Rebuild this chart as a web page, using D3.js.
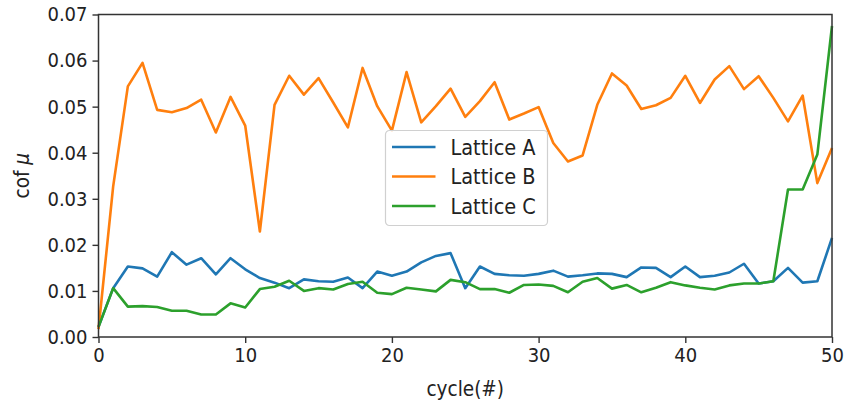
<!DOCTYPE html>
<html>
<head>
<meta charset="utf-8">
<script src="https://cdn.jsdelivr.net/npm/d3@7"></script>
<style>
    body { margin: 0; background: #fff; }
    text { font-family: "DejaVu Sans Condensed", "DejaVu Sans", sans-serif; fill: #222; }
</style>
</head>
<body>
<div id="chart-area"></div>
<script>

var cycles = [0, 1, 2, 3, 4, 5, 6, 7, 8, 9, 10, 11, 12, 13, 14, 15, 16, 17, 18, 19, 20,
    21, 22, 23, 24, 25, 26, 27, 28, 29, 30, 31, 32, 33, 34, 35, 36, 37, 38, 39, 40,
    41, 42, 43, 44, 45, 46, 47, 48, 49, 50];

var latticeA = [0.0022, 0.0106, 0.0153, 0.0149, 0.0131, 0.0184, 0.0157, 0.0171, 0.0136, 0.0171,
    0.0147, 0.0128, 0.0118, 0.0106, 0.0125, 0.0121, 0.0120, 0.0129, 0.0106, 0.0142,
    0.0133, 0.0142, 0.0162, 0.0176, 0.0182, 0.0106, 0.0153, 0.0137, 0.0134, 0.0133,
    0.0137, 0.0144, 0.0131, 0.0134, 0.0138, 0.0137, 0.0130, 0.0151, 0.0150, 0.0130,
    0.0153, 0.0130, 0.0133, 0.0140, 0.0159, 0.0116, 0.0121, 0.0150, 0.0118, 0.0121,
    0.0215];

var latticeB = [0.0017, 0.0327, 0.0544, 0.0595, 0.0493, 0.0488, 0.0497, 0.0515, 0.0444, 0.0521,
    0.0459, 0.0229, 0.0504, 0.0567, 0.0526, 0.0562, 0.0509, 0.0455, 0.0584, 0.0501,
    0.0448, 0.0575, 0.0466, 0.0501, 0.0539, 0.0478, 0.0512, 0.0553, 0.0472, 0.0485,
    0.0499, 0.0421, 0.0381, 0.0394, 0.0504, 0.0572, 0.0546, 0.0495, 0.0503, 0.0519,
    0.0567, 0.0508, 0.0559, 0.0588, 0.0538, 0.0566, 0.0519, 0.0468, 0.0524, 0.0334,
    0.0410];

var latticeC = [0.0022, 0.0106, 0.0066, 0.0067, 0.0065, 0.0057, 0.0057, 0.0049, 0.0049, 0.0073,
    0.0064, 0.0104, 0.0109, 0.0122, 0.0100, 0.0106, 0.0103, 0.0115, 0.0120, 0.0096,
    0.0093, 0.0107, 0.0103, 0.0099, 0.0124, 0.0119, 0.0104, 0.0104, 0.0096, 0.0113,
    0.0114, 0.0111, 0.0097, 0.0120, 0.0128, 0.0105, 0.0113, 0.0097, 0.0107, 0.0119,
    0.0112, 0.0107, 0.0103, 0.0112, 0.0116, 0.0116, 0.0121, 0.0320, 0.0320, 0.0396,
    0.0675];

var seriesNames = ["Lattice A", "Lattice B", "Lattice C"];
var xTicks = [0, 10, 20, 30, 40, 50];
var yTicks = [0.00, 0.01, 0.02, 0.03, 0.04, 0.05, 0.06, 0.07];

var colors = ["#1f77b4", "#ff7f0e", "#2ca02c"];
var series = [latticeA, latticeB, latticeC];

var margin = { left: 98.5, right: 14, top: 14.5, bottom: 67 };
var width = 846 - margin.left - margin.right;
var height = 404 - margin.top - margin.bottom;

var svg = d3.select("#chart-area")
    .append("svg")
    .attr("width", 846)
    .attr("height", 404);

var g = svg.append("g")
    .attr("transform", "translate(" + margin.left + "," + margin.top + ")");

var x = d3.scaleLinear()
    .domain([0, 50])
    .range([0, width]);

var y = d3.scaleLinear()
    .domain([0, 0.07])
    .range([height, 0]);

// lines
var line = d3.line()
    .x(function(d, i) { return x(cycles[i]); })
    .y(function(d) { return y(d); });

g.selectAll(".series")
    .data(series)
    .enter()
    .append("path")
    .attr("class", "series")
    .attr("d", line)
    .attr("fill", "none")
    .attr("stroke", function(d, i) { return colors[i]; })
    .attr("stroke-width", 2.6)
    .attr("stroke-linejoin", "round");

// axes
var xAxis = g.append("g")
    .attr("transform", "translate(0," + height + ")")
    .call(d3.axisBottom(x).tickValues(xTicks).tickSize(6).tickPadding(5).tickFormat(d3.format("d")));

var yAxis = g.append("g")
    .call(d3.axisLeft(y).tickValues(yTicks).tickSize(6).tickPadding(5).tickFormat(d3.format(".2f")));

[xAxis, yAxis].forEach(function(a) {
    a.select(".domain").remove();
    a.selectAll("line").attr("stroke", "#333").attr("stroke-width", 1.4);
    a.selectAll("text")
        .attr("font-size", 20)
        .attr("font-family", null)
        .attr("fill", "#222");
});

// frame
g.append("rect")
    .attr("width", width)
    .attr("height", height)
    .attr("fill", "none")
    .attr("stroke", "#333")
    .attr("stroke-width", 1.5);

// labels
svg.append("text")
    .attr("x", margin.left + width / 2)
    .attr("y", 396)
    .attr("text-anchor", "middle")
    .attr("font-size", 20.5)
    .text("cycle(#)");

var yl = svg.append("text")
    .attr("transform", "translate(29," + (margin.top + height / 2) + ") rotate(-90)")
    .attr("text-anchor", "middle")
    .attr("font-size", 20.5);
yl.append("tspan").text("cof ");
yl.append("tspan").attr("font-style", "italic").text("μ");

// legend
var legend = svg.append("g")
    .attr("transform", "translate(385.5,130.5)");

legend.append("rect")
    .attr("width", 162)
    .attr("height", 95)
    .attr("rx", 4)
    .attr("fill", "#fff")
    .attr("fill-opacity", 0.85)
    .attr("stroke", "#d0d0d0")
    .attr("stroke-width", 1.2);

var items = legend.selectAll(".item")
    .data(seriesNames)
    .enter()
    .append("g")
    .attr("class", "item")
    .attr("transform", function(d, i) { return "translate(0," + (16.5 + i * 29.5) + ")"; });

items.append("line")
    .attr("x1", 6.5)
    .attr("x2", 50)
    .attr("stroke", function(d, i) { return colors[i]; })
    .attr("stroke-width", 2.6);

items.append("text")
    .attr("x", 65)
    .attr("dy", "0.36em")
    .attr("font-size", 21.5)
    .text(function(d) { return d; });

</script>
</body>
</html>
